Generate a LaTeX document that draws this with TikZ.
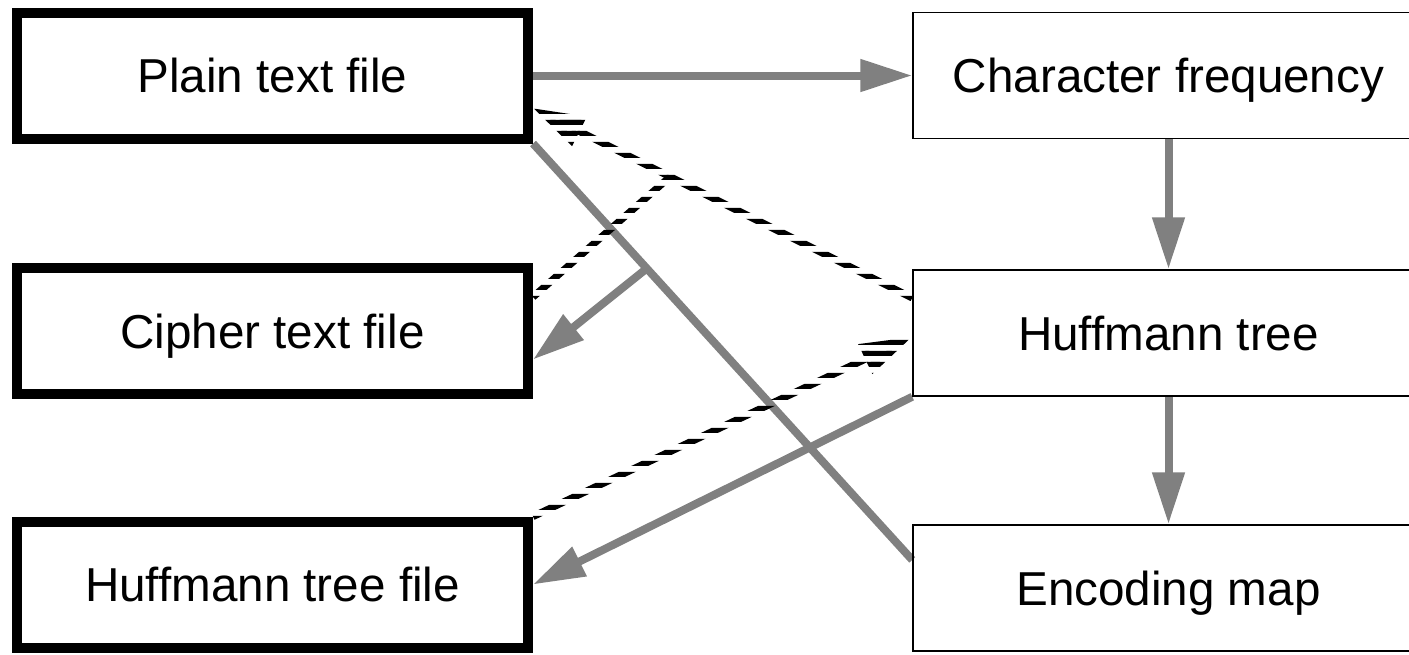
\documentclass[tikz,border=0pt]{standalone}
\usepackage{fontspec}
\setmainfont{Liberation Sans}
\usetikzlibrary{arrows.meta,calc}
\pgfdeclarelayer{bg}
\pgfsetlayers{bg,main}

\tikzset{
  filebox/.style={draw=black, line width=5pt, minimum width=255.5pt,
    minimum height=63pt, inner sep=0pt,
    font=\fontsize{23.8pt}{28pt}\selectfont, text height=17pt, text depth=0pt},
  databox/.style={filebox, line width=0.75pt},
  flowline/.style={draw=gray, line width=4pt},
  flow/.style={flowline, -{Triangle[length=26pt,width=15.5pt]}},
  back/.style={draw=black, line width=3.6pt},
  backarrow/.style={back, -{Triangle[length=26pt,width=15.5pt]}},
}

\begin{document}
\begin{tikzpicture}[x=0.5pt, y=-0.5pt]
  \useasboundingbox (0,0) rectangle (1409,654);

  % files
  \node[filebox] (plain)    at (272.5,75.5) {Plain text file};
  \node[filebox] (cipher)   at (272.5,331)  {Cipher text file};
  \node[filebox] (treefile) at (272.5,584.5) {Huffmann tree file};

  % intermediate data
  \node[databox] (freq) at (1168.5,75.5) {Character frequency};
  \node[databox] (tree) at (1168.5,333)  {Huffmann tree};
  \node[databox] (map)  at (1168.5,588)  {Encoding map};

  % attachment points and junctions
  \coordinate (mapin)     at ($(map.north west)!0.28!(map.south west)$);
  \coordinate (j1)        at ($(plain.south east)!0.3!(mapin)$);
  \coordinate (cipherin)  at ($(cipher.north east)!0.71!(cipher.south east)$);
  \coordinate (treeout)   at ($(tree.north west)!0.225!(tree.south west)$);
  \coordinate (plainin)   at ($(plain.north east)!0.74!(plain.south east)$);
  \coordinate (j2)        at ($(plainin)!0.3615!(treeout)$);
  \coordinate (cipherout) at ($(cipher.north east)!0.25!(cipher.south east)$);
  \coordinate (treein)    at ($(tree.north west)!0.53!(tree.south west)$);

  \begin{pgfonlayer}{bg}
    % encoding
    \draw[flow] (plain.east) -- (freq.west);
    \draw[flow] (freq.south) -- (tree.north);
    \draw[flow] (tree.south) -- (map.north);
    \draw[flowline] (plain.south east) -- (mapin);
    \draw[flow] (j1) -- (cipherin);
    \draw[flow] (tree.south west) -- (treefile.east);

    % decoding, drawn through horizontal stripes
    \begin{scope}
      \clip \foreach \k in {0,...,60} {(0,{-1.2+11*\k}) rectangle (1409,{3.8+11*\k})};
      \draw[backarrow] (treeout) -- (plainin);
      \draw[back] (j2) -- (cipherout);
      \draw[backarrow] (treefile.north east) -- (treein);
    \end{scope}
  \end{pgfonlayer}
\end{tikzpicture}
\end{document}
